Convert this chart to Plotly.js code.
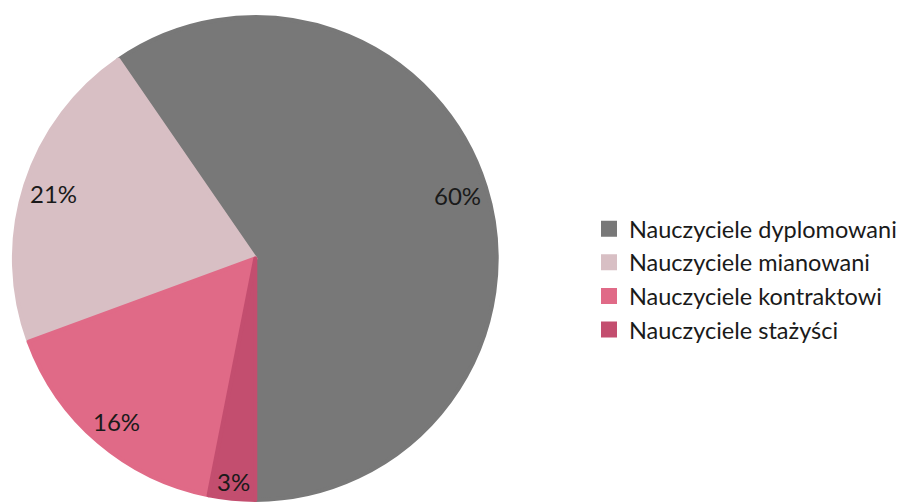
<!DOCTYPE html>
<html>
<head>
<meta charset="utf-8">
<script src="https://cdn.plot.ly/plotly-3.0.1.min.js"></script>
<style>
html,body{margin:0;padding:0;overflow:hidden;background:#fff;}
#chart{width:902px;height:503px;}
</style>
</head>
<body>
<div id="chart"></div>
<script>
const categories = ["Nauczyciele dyplomowani","Nauczyciele mianowani","Nauczyciele kontraktowi","Nauczyciele stażyści"];
const values = [59.6, 21.0, 16.3, 3.1];
const labelsText = ["60%","21%","16%","3%"];
const colors = ["#787878","#d8bfc4","#e06a87","#c34e6f"];

const W = 902, H = 503;
const cx = 257, cy = 258.5, R = 245, LW = 4;
const startAngle = 180; // first slice begins at 6 o'clock, going counterclockwise
const total = values.reduce((a, b) => a + b, 0);
// Plotly (counterclockwise): first slice ends at `rotation`, so offset by its size
const rotation = startAngle - 360 * values[0] / total;

const Rd = R - LW / 2;
const trace = {
  type: "pie",
  labels: categories,
  values: values,
  sort: false,
  direction: "counterclockwise",
  rotation: rotation,
  marker: {colors: colors, line: {width: LW, color: colors}},
  textinfo: "none",
  hoverinfo: "label+percent",
  domain: {x: [(cx - Rd) / W, (cx + Rd) / W], y: [Math.max(0, 1 - (cy + Rd) / H), 1 - (cy - Rd) / H]}
};

// label positions: "inside end" placement along each slice's mid-angle
const fs = 24;
let cum = 0;
const annotations = values.map((v, i) => {
  const mid = (cum + v / 2) / total;
  cum += v;
  const theta = (startAngle - 360 * mid) * Math.PI / 180;
  const ux = Math.sin(theta), uy = -Math.cos(theta);
  const w = labelsText[i].length * fs * 0.6, h = fs * 1.05;
  const ext = Math.abs(ux) * w / 2 + Math.abs(uy) * h / 2;
  const d = R - 7 - ext;
  const px = cx + ux * d, py = cy + uy * d;
  return {
    text: labelsText[i], xref: "paper", yref: "paper",
    x: px / W, y: 1 - py / H, xanchor: "center", yanchor: "middle",
    showarrow: false, font: {family: "Lato, 'Open Sans', sans-serif", size: fs, color: "#1a1a1a"}
  };
});

const layout = {
  width: W, height: H,
  margin: {l: 0, r: 0, t: 0, b: 0},
  paper_bgcolor: "#fff",
  showlegend: true,
  legend: {
    x: 593 / W, xanchor: "left", y: 1 - 279.5 / H, yanchor: "middle",
    font: {family: "Lato, 'Open Sans', sans-serif", size: 23.5, color: "#1a1a1a"},
    bgcolor: "rgba(0,0,0,0)", traceorder: "normal"
  },
  annotations: annotations
};

Plotly.newPlot("chart", [trace], layout, {displayModeBar: false, staticPlot: true});
</script>
</body>
</html>
